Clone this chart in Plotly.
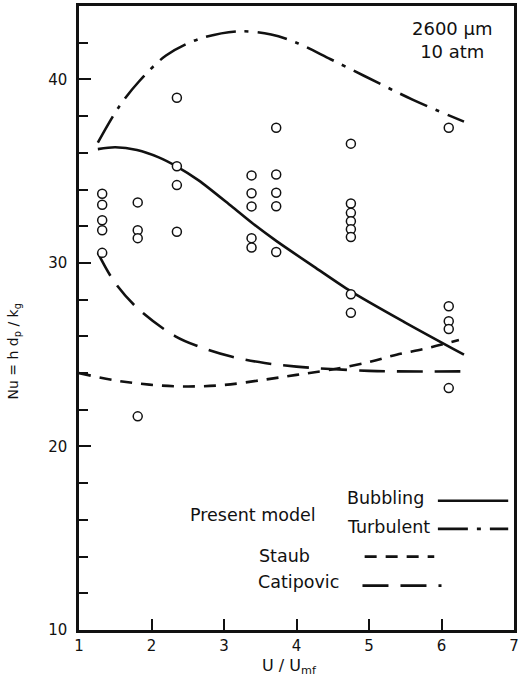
import plotly.graph_objects as go

# ---- data ----
obs_x = [1.32]*5 + [1.81]*4 + [2.35]*4 + [3.38]*5 + [3.72]*5 + [4.75]*8 + [6.10]*5
obs_y = [33.77, 33.17, 32.33, 31.78, 30.55,
         33.3, 31.78, 31.35, 21.64,
         39.0, 35.27, 34.24, 31.7,
         34.77, 33.8, 33.08, 31.35, 30.84,
         37.37, 34.82, 33.82, 33.09, 30.6,
         36.5, 33.24, 32.73, 32.27, 31.84, 31.41, 28.29, 27.28,
         37.37, 27.64, 26.82, 26.4, 23.18]

bub_x = [1.26, 1.5, 1.8, 2.1, 2.35, 2.65, 3.1, 3.38, 3.72, 4.24, 4.75, 5.5, 6.31]
bub_y = [36.2, 36.3, 36.15, 35.75, 35.25, 34.5, 33.1, 32.2, 31.2, 29.8, 28.45, 26.75, 25.0]

tur_x = [1.26, 1.55, 1.83, 2.2, 2.65, 3.2, 3.65, 4.0, 4.47, 4.93, 5.6, 6.31]
tur_y = [36.55, 38.5, 39.9, 41.3, 42.2, 42.62, 42.45, 42.0, 41.1, 40.2, 38.9, 37.7]

sta_x = [1.0, 1.5, 1.97, 2.47, 3.0, 3.56, 4.0, 4.47, 5.0, 5.38, 5.8, 6.24]
sta_y = [24.0, 23.6, 23.37, 23.27, 23.35, 23.64, 23.9, 24.18, 24.6, 25.0, 25.35, 25.8]

cat_x = [1.26, 1.5, 1.83, 2.33, 2.65, 3.1, 3.56, 4.0, 4.47, 5.0, 5.38, 6.26]
cat_y = [30.55, 28.9, 27.45, 26.0, 25.45, 24.9, 24.55, 24.35, 24.22, 24.12, 24.09, 24.09]

x_ticks = [1, 2, 3, 4, 5, 6, 7]
y_ticks = [10, 20, 30, 40]

FONT = "DejaVu Sans"
BLACK = "#111111"
LEG_SIZE = 17.5

DASH_TUR = "30px,9px,4px,9px"
DASH_STA = "12px,9px"
DASH_CAT = "26px,12px"

fig = go.Figure()

fig.add_trace(go.Scatter(x=bub_x, y=bub_y, mode="lines",
                         line=dict(color=BLACK, width=2.6, shape="spline", smoothing=0.8)))
fig.add_trace(go.Scatter(x=tur_x, y=tur_y, mode="lines",
                         line=dict(color=BLACK, width=2.6, shape="spline", smoothing=0.9,
                                   dash=DASH_TUR)))
fig.add_trace(go.Scatter(x=sta_x, y=sta_y, mode="lines",
                         line=dict(color=BLACK, width=2.6, shape="spline", smoothing=1.0,
                                   dash=DASH_STA)))
fig.add_trace(go.Scatter(x=cat_x, y=cat_y, mode="lines",
                         line=dict(color=BLACK, width=2.6, shape="spline", smoothing=1.0,
                                   dash=DASH_CAT)))
fig.add_trace(go.Scatter(x=obs_x, y=obs_y, mode="markers",
                         marker=dict(symbol="circle", size=9, color="white",
                                     line=dict(color=BLACK, width=1.5))))

# legend (drawn manually, as in the original)
leg_items = [
    ("Bubbling", 4.67, 17.2, 5.95, 6.92, 17.04, "solid"),
    ("Turbulent", 4.67, 15.6, 5.95, 6.92, 15.51, DASH_TUR),
    ("Staub", 3.45, 14.04, 4.94, 5.9, 14.0, DASH_STA),
    ("Catipovic", 3.44, 12.6, 4.91, 6.0, 12.42, DASH_CAT),
]
annotations = []
for name, tx, ty, x0, x1, ly, dash in leg_items:
    fig.add_trace(go.Scatter(x=[x0, x1], y=[ly, ly], mode="lines",
                             line=dict(color=BLACK, width=2.6, dash=dash), cliponaxis=False))
    annotations.append(dict(x=tx, y=ty, text=name, showarrow=False, xanchor="left",
                            yanchor="middle", font=dict(size=LEG_SIZE, color=BLACK, family=FONT)))
annotations.append(dict(x=2.5, y=16.27, text="Present model", showarrow=False, xanchor="left",
                        yanchor="middle", font=dict(size=LEG_SIZE, color=BLACK, family=FONT)))
annotations.append(dict(x=6.15, y=42.15, text="2600 μm<br>10 atm", showarrow=False,
                        xanchor="center", yanchor="middle", align="center",
                        font=dict(size=18, color=BLACK, family=FONT)))
annotations.append(dict(xref="paper", yref="paper", x=0.484, y=-0.058,
                        text="U / U<sub>mf</sub>", showarrow=False,
                        xanchor="center", yanchor="middle",
                        font=dict(size=16, color=BLACK, family=FONT)))
annotations.append(dict(xref="paper", yref="paper", x=-0.15, y=0.446,
                        text="Nu = h d<sub>p</sub> / k<sub>g</sub>", showarrow=False,
                        textangle=-90, xanchor="center", yanchor="middle",
                        font=dict(size=14, color=BLACK, family=FONT)))

fig.update_layout(
    width=522, height=679,
    margin=dict(l=79, r=3, t=6, b=49),
    paper_bgcolor="white", plot_bgcolor="white",
    showlegend=False,
    annotations=annotations,
    font=dict(family=FONT, size=14, color=BLACK),
    xaxis=dict(range=[1, 7], tickvals=x_ticks, ticktext=[str(v) for v in x_ticks],
               ticks="inside", ticklen=11, tickwidth=1.5, tickcolor=BLACK,
               showline=True, linecolor=BLACK, linewidth=2.5, mirror=True,
               showgrid=False, zeroline=False, tickfont=dict(size=15)),
    yaxis=dict(range=[10, 44], tickvals=y_ticks, ticktext=[str(v) for v in y_ticks],
               ticks="inside", ticklen=12, tickwidth=1.5, tickcolor=BLACK,
               ticklabelstandoff=6,
               minor=dict(dtick=2, ticks="inside", ticklen=9, tickwidth=1.5, tickcolor=BLACK),
               showline=True, linecolor=BLACK, linewidth=2.5, mirror=True,
               showgrid=False, zeroline=False, tickfont=dict(size=15)),
)

fig.write_html("out.html")
